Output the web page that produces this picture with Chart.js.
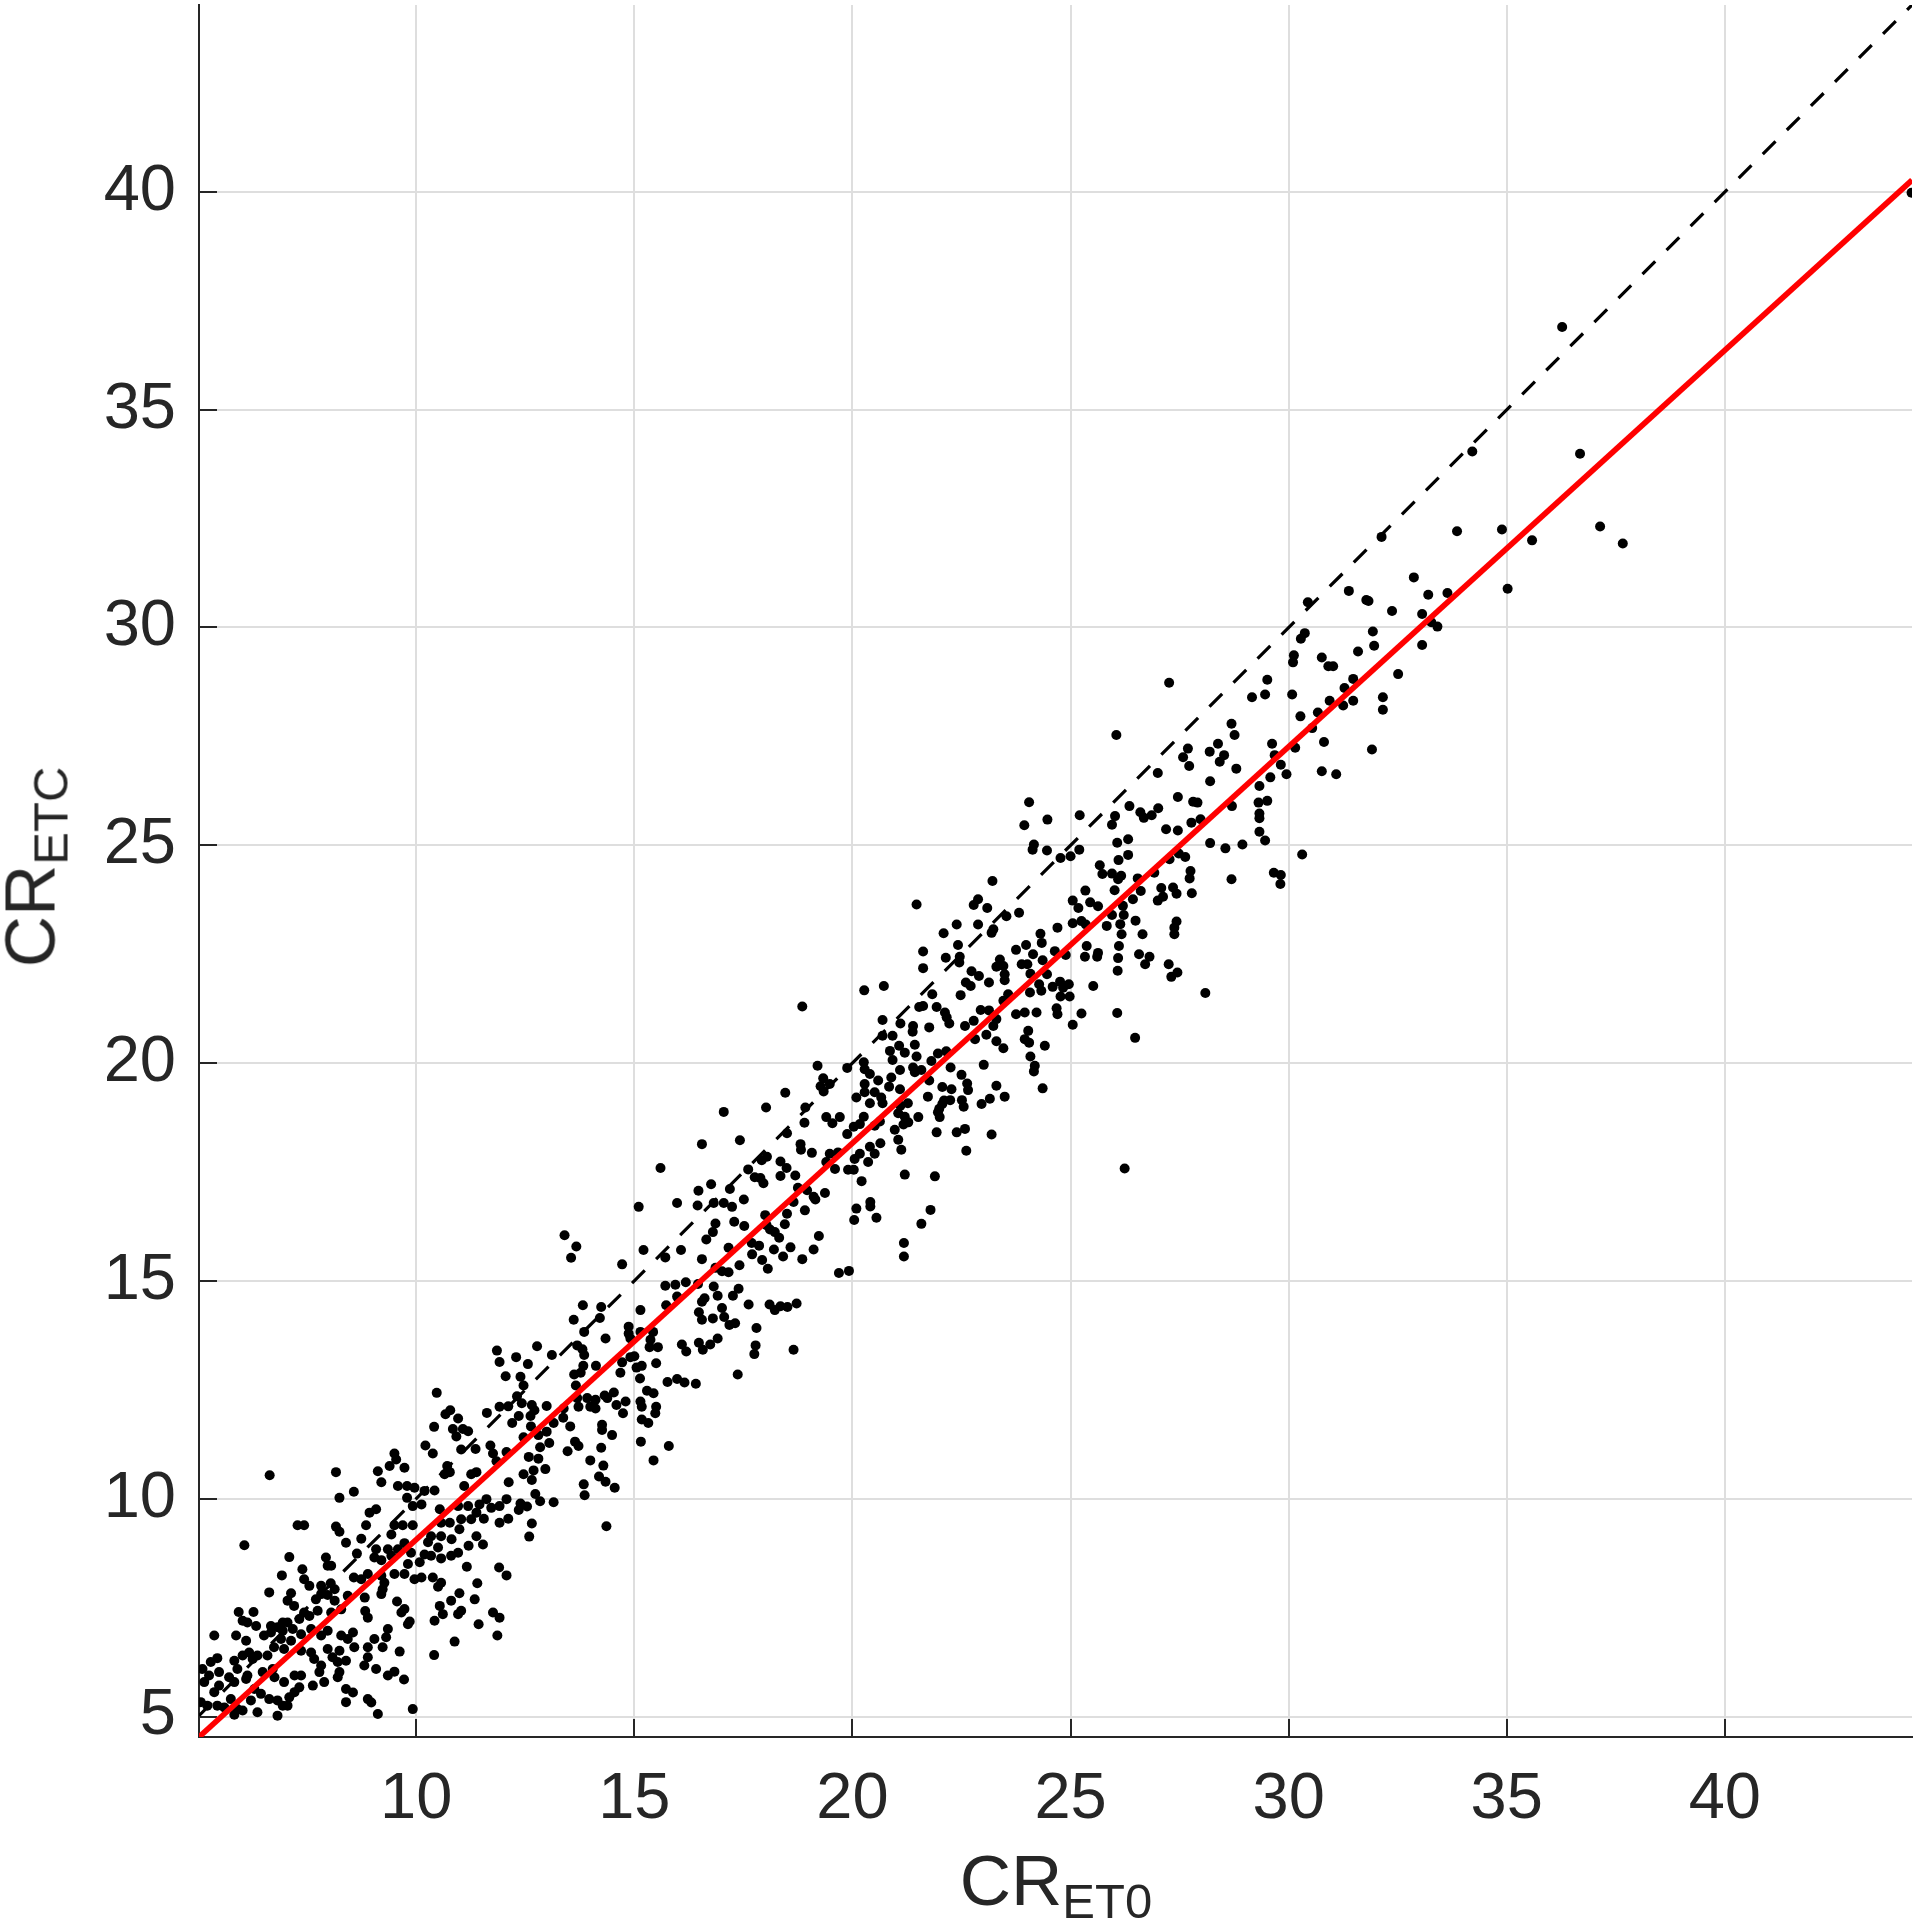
<!DOCTYPE html>
<html>
<head>
<meta charset="utf-8">
<script src="https://cdn.jsdelivr.net/npm/chart.js@4.4.1/dist/chart.umd.min.js"></script>
<style>
html,body{margin:0;padding:0;background:#fff;}
#wrap{position:relative;width:1921px;height:1922px;overflow:hidden;background:#fff;}
#c{position:absolute;left:0;top:0;}
.atitle{position:absolute;font-family:"Liberation Sans",Arial,Helvetica,sans-serif;color:#262626;font-size:71px;line-height:71px;white-space:nowrap;}
.atitle .sub{font-size:49px;line-height:0;position:relative;top:13px;}
#xt{left:1056px;top:1845px;transform:translateX(-50%);}
#yt{left:30px;top:867px;transform:translate(-50%,-50%) rotate(-90deg);}
</style>
</head>
<body>
<div id="wrap">
<canvas id="c" width="1921" height="1922"></canvas>
<div class="atitle" id="xt">CR<span class="sub">ET0</span></div>
<div class="atitle" id="yt">CR<span class="sub">ETC</span></div>
</div>
<script>
// ---- axis limits and ticks ----
const xRange = [5.02, 44.29];
const yRange = [4.53, 44.29];
const xTickValues = [10, 15, 20, 25, 30, 35, 40];
const yTickValues = [5, 10, 15, 20, 25, 30, 35, 40];

// ---- fitted line (red) and 1:1 line (dashed) ----
const fitLineX = [5.02, 44.29];
const fitLineY = [4.53, 40.27];
const oneToOneX = [5.02, 44.29];
const oneToOneY = [5.02, 44.29];

// ---- scatter points [CR_ET0, CR_ETC], grouped along the band ----
const band1 = [
[11.85,13.40],[11.91,13.14],[12.05,12.81],[10.47,12.43],[10.78,12.03],[10.67,11.94],[10.96,11.84],[10.84,11.60],
[11.07,11.60],[11.19,11.55],[10.92,11.43],[10.41,11.65],[11.62,11.97],[11.91,12.11],[12.11,12.12],[12.20,11.74],
[10.21,11.22],[10.38,11.04],[11.03,11.13],[11.36,11.14],[11.70,11.22],[11.76,11.04],[12.07,11.07],[11.84,10.86],
[9.50,11.04],[9.54,10.90],[9.39,10.75],[9.73,10.71],[9.12,10.63],[9.20,10.38],[8.16,10.61],[6.64,10.54],
[10.71,10.75],[10.77,10.61],[10.65,10.56],[11.26,10.56],[11.38,10.61],[11.10,10.29],[12.12,10.38],[9.58,10.29],
[9.79,10.29],[9.96,10.25],[9.79,10.02],[8.57,10.16],[8.24,10.02],[10.19,10.18],[10.42,10.19],[9.92,9.83],
[10.12,9.87],[10.54,9.76],[10.96,9.83],[11.19,9.83],[11.45,9.87],[11.61,9.99],[11.72,9.79],[11.91,9.83],
[12.07,9.99],[11.38,9.68],[11.55,9.54],[11.91,9.45],[12.11,9.54],[9.08,9.76],[8.93,9.68],[8.85,9.39],
[7.28,9.39],[7.43,9.39],[8.16,9.36],[8.24,9.24],[9.50,9.39],[9.69,9.39],[9.92,9.39],[9.43,9.18],
[10.57,9.45],[10.77,9.45],[11.03,9.53],[11.26,9.53],[10.99,9.30],[10.34,9.14],[10.57,9.14],[10.81,9.07],
[10.27,9.00],[10.50,8.88],[11.20,8.92],[11.38,9.14],[11.53,8.95],[8.74,9.08],[9.08,8.84],[9.73,8.98],
[9.88,8.76],[9.58,8.84],[9.35,8.84],[8.64,8.74],[8.39,8.99],[6.06,8.93],[7.09,8.66],[7.93,8.65],
[10.19,8.72],[10.34,8.69],[10.57,8.63],[10.80,8.69],[10.96,8.76],[9.04,8.65],[9.20,8.59],[9.43,8.69],
[9.81,8.50],[10.08,8.54],[7.97,8.46],[8.05,8.46],[7.39,8.38],[11.16,8.44],[11.90,8.42],[12.07,8.24],
[8.89,8.27],[9.20,8.23],[9.50,8.27],[9.73,8.27],[9.96,8.15],[10.12,8.19],[8.57,8.19],[8.74,8.15],
[6.92,8.24],[7.43,8.15],[7.55,8.00],[7.82,8.00],[8.04,8.06],[8.13,7.92],[10.38,8.19],[10.57,8.07],
[10.50,7.98],[11.40,8.06],[9.27,8.07],[9.23,7.92],[8.43,7.77],[6.63,7.85],[7.13,7.83],[7.05,7.66],
[7.20,7.54],[7.70,7.69],[7.82,7.81],[7.97,7.79],[8.13,7.66],[8.82,7.73],[9.20,7.81],[9.56,7.64],
[9.73,7.47],[9.66,7.39],[9.85,7.18],[9.81,7.12],[8.83,7.42],[8.89,7.27],[8.28,7.46],[8.05,7.39],
[7.74,7.43],[7.55,7.31],[7.43,7.39],[7.32,7.24],[7.05,7.16],[6.94,7.16],[6.82,7.05],[6.67,7.08],
[6.27,7.40],[5.93,7.40],[6.02,7.20],[6.13,7.16],[6.33,7.08],[10.80,7.66],[10.99,7.83],[11.34,7.69],
[10.54,7.54],[10.42,7.20],[10.61,7.35],[10.96,7.35],[11.03,7.43],[11.76,7.39],[11.91,7.27],[11.43,7.12],
[11.86,6.86],[10.88,6.72],[10.41,6.41],[5.37,6.86],[5.87,6.86],[6.10,6.74],[6.51,6.86],[6.67,6.93],
[6.94,6.97],[7.17,7.01],[6.90,6.78],[7.13,6.74],[7.36,6.89],[7.59,7.01],[7.82,6.86],[7.97,6.97],
[8.28,6.86],[8.43,6.78],[8.55,6.93],[9.04,6.78],[9.35,7.01],[9.31,6.82],[8.89,6.59],[9.23,6.59],
[8.58,6.59],[8.24,6.51],[7.97,6.55],[7.59,6.47],[7.36,6.51],[6.97,6.55],[6.74,6.59],[6.59,6.40],
[6.36,6.40],[6.17,6.47],[6.02,6.40],[6.25,6.32],[5.83,6.28],[5.44,6.34],[5.29,6.25],[5.10,6.09],
[8.89,6.36],[8.81,6.17],[9.62,6.49],[7.66,6.32],[7.82,6.17],[8.08,6.36],[8.20,6.25],[8.39,6.28],
[8.24,6.02],[8.20,5.90],[7.78,6.02],[7.89,5.79],[7.63,5.71],[7.21,5.94],[7.36,5.94],[6.97,5.79],
[6.75,5.90],[6.71,6.09],[6.48,6.02],[6.13,5.94],[5.90,6.09],[5.71,5.90],[5.48,6.02],[5.25,5.94],
[5.14,5.79],[9.08,6.09],[9.35,5.94],[9.50,6.03],[9.72,5.85],[8.39,5.63],[8.55,5.55],[8.89,5.40],
[8.97,5.32],[9.12,5.06],[9.92,5.17],[8.39,5.33],[5.48,5.71],[5.83,5.79],[6.10,5.86],[6.29,5.63],
[6.44,5.52],[6.63,5.40],[6.82,5.37],[6.94,5.25],[7.09,5.44],[7.21,5.56],[7.32,5.67],[5.06,5.33],
[5.21,5.25],[5.44,5.25],[5.60,5.21],[5.75,5.40],[5.90,5.17],[6.02,5.14],[5.83,5.04],[6.36,5.10],
[6.82,5.02],[7.05,5.25],[6.21,5.37],[5.37,5.56]
];
const band2 = [
[19.20,19.94],[19.33,19.65],[19.27,19.47],[19.34,19.35],[18.46,19.32],[18.02,18.98],[17.05,18.88],[18.92,18.98],
[18.90,18.63],[17.42,18.23],[16.55,18.14],[18.50,18.39],[18.81,18.14],[18.82,18.01],[19.07,17.94],[18.04,17.85],
[17.92,17.77],[18.35,17.74],[18.49,17.59],[17.61,17.56],[17.76,17.38],[17.89,17.36],[18.35,17.41],[18.69,17.42],
[17.96,17.24],[15.60,17.59],[16.76,17.22],[16.47,17.07],[17.19,17.11],[18.75,17.14],[18.96,17.08],[19.11,16.93],
[19.15,16.87],[15.10,16.70],[15.98,16.79],[16.45,16.73],[16.82,16.79],[17.05,16.79],[17.24,16.70],[17.51,16.87],
[18.65,16.81],[18.50,16.54],[18.91,16.62],[18.00,16.51],[18.45,16.30],[17.29,16.36],[17.52,16.26],[16.86,16.32],
[16.80,16.12],[16.65,15.95],[18.03,16.28],[18.11,16.18],[18.22,16.12],[18.32,15.99],[19.23,16.03],[13.40,16.05],
[13.67,15.79],[13.55,15.53],[15.21,15.71],[16.07,15.71],[15.71,15.54],[16.55,15.50],[14.72,15.38],[17.16,15.76],
[17.69,15.87],[17.86,15.81],[17.70,15.61],[18.20,15.72],[18.41,15.56],[18.58,15.77],[17.93,15.48],[18.06,15.28],
[18.85,15.50],[19.11,15.72],[17.41,15.36],[16.86,15.30],[17.01,15.22],[17.16,15.20],[15.71,14.89],[15.94,14.91],
[16.18,14.97],[16.46,14.93],[15.98,14.64],[16.82,14.87],[16.91,14.66],[17.39,14.82],[17.26,14.66],[16.61,14.60],
[16.55,14.52],[17.62,14.46],[15.73,14.44],[15.14,14.33],[13.82,14.44],[14.24,14.40],[13.61,14.11],[14.21,14.15],
[13.85,13.83],[14.34,13.68],[14.87,13.95],[14.87,13.79],[14.91,13.68],[15.14,13.83],[15.43,13.83],[16.48,14.28],
[16.80,14.14],[17.01,14.38],[17.06,14.17],[17.18,13.99],[17.31,14.03],[18.10,14.46],[18.22,14.33],[18.35,14.42],
[18.51,14.40],[18.72,14.48],[16.55,14.11],[17.80,13.92],[15.37,13.65],[15.54,13.48],[15.35,13.48],[16.09,13.54],
[16.19,13.38],[16.48,13.58],[16.57,13.42],[16.74,13.54],[16.91,13.68],[17.78,13.52],[17.75,13.32],[18.65,13.42],
[12.77,13.50],[12.29,13.25],[12.56,13.09],[13.11,13.30],[13.69,13.52],[13.81,13.43],[13.85,13.30],[13.83,13.05],
[14.12,13.05],[13.77,12.89],[13.62,12.85],[13.66,12.60],[14.72,13.13],[14.68,12.89],[14.91,13.25],[15.00,13.27],
[15.05,13.01],[15.17,13.05],[15.13,12.76],[15.50,13.11],[15.76,12.68],[15.98,12.75],[16.15,12.67],[16.41,12.64],
[17.37,12.85],[12.39,12.80],[12.46,12.60],[12.31,12.35],[12.42,12.19],[12.65,12.15],[12.71,12.03],[12.99,12.13],
[12.35,11.90],[12.62,11.90],[13.38,12.07],[13.69,12.31],[13.92,12.31],[14.11,12.27],[13.99,12.11],[14.11,12.07],
[14.32,12.37],[14.38,12.31],[14.53,12.44],[14.59,12.15],[14.80,12.23],[14.74,11.96],[15.14,12.23],[15.17,12.11],
[15.29,12.48],[15.44,12.42],[15.50,12.11],[15.48,11.96],[13.72,12.11],[15.17,11.82],[15.32,11.74],[13.15,11.74],
[13.37,11.86],[13.53,11.66],[12.63,11.66],[12.99,11.54],[12.46,11.41],[12.80,11.46],[13.05,11.28],[13.64,11.31],
[13.72,11.21],[13.47,11.09],[14.26,11.70],[14.26,11.58],[14.49,11.46],[15.15,11.31],[15.79,11.21],[15.44,10.88],
[12.84,11.18],[12.58,10.96],[12.80,10.92],[12.69,10.65],[12.96,10.68],[12.46,10.56],[12.65,10.43],[14.24,11.17],
[13.99,10.88],[14.29,10.76],[14.19,10.51],[14.34,10.39],[14.55,10.25],[13.84,10.33],[13.86,10.08],[12.73,10.11],
[12.84,9.94],[12.39,9.89],[12.35,9.74],[12.54,9.82],[13.15,9.92],[14.36,9.37],[12.65,9.43],[12.59,9.13],
[18.85,21.30]
];
const band3 = [
[24.16,25.02],[24.13,24.90],[24.46,24.88],[24.77,24.71],[25.00,24.75],[25.20,24.90],[25.67,24.54],[25.73,24.34],
[23.21,24.18],[25.34,23.96],[25.05,23.73],[25.18,23.56],[25.45,23.69],[25.63,23.60],[21.47,23.64],[22.88,23.76],
[22.78,23.63],[23.09,23.56],[23.82,23.45],[23.53,23.37],[25.05,23.21],[25.25,23.26],[25.35,23.18],[25.83,23.15],
[22.39,23.18],[22.88,23.18],[23.23,23.07],[23.19,22.99],[22.09,22.98],[24.70,23.11],[24.31,22.97],[22.42,22.71],
[21.62,22.56],[24.34,22.76],[23.98,22.71],[23.75,22.60],[24.14,22.50],[24.64,22.57],[24.89,22.48],[25.37,22.69],
[25.63,22.53],[25.61,22.44],[25.33,22.44],[22.14,22.42],[22.46,22.44],[22.45,22.31],[21.62,22.18],[23.38,22.38],
[23.30,22.21],[23.46,22.23],[23.88,22.27],[24.01,22.27],[24.36,22.36],[22.73,22.11],[23.49,22.04],[23.49,21.90],
[24.08,22.05],[22.90,22.00],[23.13,21.85],[22.60,21.85],[22.71,21.77],[24.46,22.04],[24.28,21.81],[24.59,21.75],
[24.76,21.87],[24.83,21.73],[24.96,21.81],[25.52,21.77],[24.33,21.66],[24.77,21.53],[24.98,21.53],[24.07,21.62],
[23.57,21.58],[20.72,21.77],[20.27,21.67],[21.83,21.58],[22.48,21.56],[23.46,21.43],[21.53,21.29],[21.62,21.31],
[21.93,21.29],[22.12,21.16],[22.16,21.05],[22.22,20.91],[22.94,21.22],[23.13,21.21],[23.30,21.01],[23.23,20.85],
[22.78,20.97],[22.58,20.85],[23.75,21.12],[23.95,21.16],[24.22,21.16],[24.68,21.26],[24.70,21.12],[25.25,21.14],
[25.05,20.88],[20.69,20.99],[21.10,20.91],[21.39,20.85],[21.38,20.72],[21.76,20.82],[20.69,20.63],[20.92,20.63],
[22.81,20.55],[23.07,20.65],[23.30,20.50],[23.46,20.34],[24.03,20.74],[23.95,20.55],[24.05,20.47],[24.41,20.40],
[21.07,20.40],[21.43,20.42],[20.86,20.28],[21.20,20.24],[21.47,20.15],[20.92,20.07],[21.96,20.22],[22.15,20.27],
[21.81,20.05],[24.08,20.15],[24.18,19.94],[24.16,19.81],[23.01,19.96],[22.25,19.90],[20.26,20.02],[20.28,19.86],
[19.88,19.89],[21.39,19.90],[21.43,19.79],[21.58,19.84],[21.09,19.84],[20.40,19.75],[20.59,19.60],[20.89,19.67],
[21.76,19.60],[20.28,19.52],[20.84,19.46],[21.09,19.40],[22.50,19.73],[22.63,19.53],[22.06,19.45],[22.27,19.40],
[22.65,19.38],[23.30,19.48],[24.36,19.42],[19.48,19.52],[20.09,19.21],[20.28,19.33],[20.51,19.33],[20.66,19.21],
[20.40,19.08],[20.69,19.08],[21.10,19.02],[21.27,19.08],[21.73,19.23],[22.10,19.14],[22.24,19.15],[22.51,19.15],
[22.55,19.00],[22.96,19.06],[23.15,19.18],[23.49,19.23],[21.99,18.95],[22.06,19.06],[21.05,18.85],[21.20,18.77],
[21.28,18.64],[21.17,18.59],[21.51,18.76],[22.00,18.76],[21.96,18.87],[20.26,18.77],[20.17,18.60],[19.40,18.76],
[19.71,18.76],[19.54,18.62],[20.03,18.54],[19.88,18.37],[20.51,18.56],[20.63,18.66],[20.97,18.47],[21.05,18.24],
[20.64,18.16],[21.93,18.41],[22.39,18.41],[22.58,18.49],[23.19,18.36],[22.61,17.99],[21.12,18.01],[20.40,18.08],
[20.51,17.92],[20.17,17.92],[20.05,17.80],[20.36,17.73],[19.48,17.92],[19.67,17.95],[19.40,17.73],[19.60,17.57],
[19.90,17.55],[20.03,17.55],[20.21,17.29],[19.37,17.02],[21.20,17.44],[21.89,17.40],[26.24,17.58],[20.09,16.66],
[20.41,16.81],[20.41,16.71],[20.04,16.40],[20.55,16.45],[21.79,16.63],[21.58,16.31],[21.18,15.87],[21.18,15.56],
[19.69,15.18],[19.92,15.23],[24.05,25.99],[23.94,25.46],[24.47,25.59],[25.21,25.69]
];
const band4 = [
[32.13,32.08],[32.87,31.15],[33.20,30.75],[33.64,30.79],[31.38,30.84],[31.78,30.63],[31.83,30.61],[32.37,30.38],
[30.44,30.58],[33.06,30.31],[33.27,30.12],[33.41,30.02],[31.93,29.91],[31.96,29.58],[33.06,29.60],[30.37,29.87],
[30.28,29.74],[30.12,29.36],[30.10,29.20],[30.76,29.31],[30.91,29.11],[31.02,29.11],[31.59,29.45],[32.51,28.93],
[29.51,28.80],[29.46,28.46],[29.16,28.40],[30.08,28.46],[27.26,28.73],[31.48,28.82],[31.28,28.61],[30.94,28.32],
[31.25,28.21],[31.48,28.32],[32.16,28.40],[32.16,28.11],[30.67,28.05],[30.27,27.96],[30.54,27.69],[26.05,27.53],
[28.69,27.79],[28.76,27.53],[28.38,27.33],[28.19,27.15],[28.52,27.07],[28.42,26.92],[27.69,27.22],[27.58,27.02],
[27.72,26.82],[28.80,26.76],[29.62,27.33],[29.68,27.07],[29.82,26.85],[29.95,26.63],[29.58,26.56],[30.15,27.24],
[30.81,27.37],[30.76,26.70],[31.09,26.63],[31.91,27.20],[27.00,26.66],[28.20,26.47],[29.33,26.36],[29.31,25.98],
[29.51,26.02],[29.33,25.73],[29.33,25.62],[29.33,25.31],[29.46,25.11],[28.70,25.90],[27.46,26.11],[27.81,26.00],
[27.91,25.98],[26.35,25.90],[26.60,25.76],[26.68,25.63],[26.86,25.69],[27.01,25.85],[26.02,25.67],[25.95,25.47],
[27.77,25.52],[27.98,25.60],[27.19,25.37],[27.46,25.34],[26.32,25.14],[26.07,25.06],[28.20,25.05],[28.55,24.93],
[28.94,25.02],[30.31,24.79],[26.32,24.78],[26.10,24.66],[27.48,24.81],[27.63,24.73],[27.27,24.68],[25.95,24.35],
[26.16,24.30],[26.09,24.22],[26.54,24.24],[26.92,24.37],[27.75,24.41],[27.73,24.24],[28.69,24.22],[29.66,24.37],
[29.82,24.32],[29.81,24.11],[26.01,23.97],[26.61,23.95],[26.43,23.76],[27.08,24.02],[27.12,23.82],[27.00,23.73],
[27.35,24.03],[27.43,23.89],[27.78,23.90],[26.20,23.61],[25.95,23.40],[26.22,23.40],[26.14,23.19],[26.49,23.27],
[27.43,23.25],[27.38,23.11],[27.38,22.96],[26.17,22.96],[26.65,22.96],[26.11,22.69],[26.09,22.41],[26.08,22.12],
[26.57,22.50],[26.81,22.44],[26.71,22.27],[27.25,22.27],[27.45,22.08],[27.31,21.98],[28.09,21.61],[26.07,21.15],
[26.48,20.58]
];
const band5 = [
[36.27,36.90],[34.21,34.04],[36.68,33.99],[33.86,32.21],[34.89,32.25],[35.58,32.00],[37.14,32.32],[37.66,31.93],
[35.02,30.89],[44.28,39.98]
];

const allPoints = [...band1, ...band2, ...band3, ...band4, ...band5].map(p => ({x: p[0], y: p[1]}));
const fitData = fitLineX.map((x, i) => ({x, y: fitLineY[i]}));
const oneData = oneToOneX.map((x, i) => ({x, y: oneToOneY[i]}));

const AXIS = '#262626';
const FONT = '"Liberation Sans", Arial, Helvetica, sans-serif';

const innerTicks = {
  id: 'innerTicks',
  beforeDatasetsDraw(chart) {
    const {ctx, chartArea: a, scales: {x, y}} = chart;
    ctx.save();
    ctx.strokeStyle = AXIS;
    ctx.lineWidth = 2;
    ctx.beginPath();
    xTickValues.forEach(v => {
      const px = Math.round(x.getPixelForValue(v));
      ctx.moveTo(px, a.bottom);
      ctx.lineTo(px, a.bottom - 18);
    });
    yTickValues.forEach(v => {
      const py = Math.round(y.getPixelForValue(v));
      ctx.moveTo(a.left, py);
      ctx.lineTo(a.left + 18, py);
    });
    ctx.stroke();
    ctx.restore();
  }
};

new Chart(document.getElementById('c'), {
  type: 'scatter',
  data: {
    datasets: [
      {label: 'fit', data: fitData, showLine: true, borderColor: '#ff0000', borderWidth: 5.6,
       pointRadius: 0, fill: false, clip: 0},
      {label: '1:1', data: oneData, showLine: true, borderColor: '#000000', borderWidth: 3.2,
       borderDash: [18, 16], pointRadius: 0, fill: false, clip: 0},
      {label: 'CR', data: allPoints, showLine: false, backgroundColor: '#000000',
       borderWidth: 0, pointRadius: 5, pointHoverRadius: 5, clip: 0}
    ]
  },
  options: {
    responsive: false,
    devicePixelRatio: 1,
    animation: false,
    events: [],
    layout: {padding: {left: 0, right: 9, top: 2, bottom: 0}},
    plugins: {legend: {display: false}, tooltip: {enabled: false}},
    scales: {
      x: {
        type: 'linear', min: xRange[0], max: xRange[1],
        afterBuildTicks: s => { s.ticks = xTickValues.map(v => ({value: v})); },
        afterFit: s => { s.height = 185; s.paddingLeft = 0; s.paddingRight = 0; s.paddingTop = 0; s.paddingBottom = 0; },
        grid: {color: '#dedede', lineWidth: 2, drawTicks: false},
        border: {display: true, color: AXIS, width: 2},
        ticks: {color: AXIS, font: {family: FONT, size: 65}, padding: 24, maxRotation: 0, autoSkip: false}
      },
      y: {
        type: 'linear', min: yRange[0], max: yRange[1],
        afterBuildTicks: s => { s.ticks = yTickValues.map(v => ({value: v})); },
        afterFit: s => { s.width = 199; s.paddingTop = 0; s.paddingBottom = 0; s.paddingLeft = 0; s.paddingRight = 0; },
        grid: {color: '#dedede', lineWidth: 2, drawTicks: false},
        border: {display: true, color: AXIS, width: 2},
        ticks: {color: AXIS, font: {family: FONT, size: 65}, padding: 23, autoSkip: false}
      }
    }
  },
  plugins: [innerTicks]
});
</script>
</body>
</html>
